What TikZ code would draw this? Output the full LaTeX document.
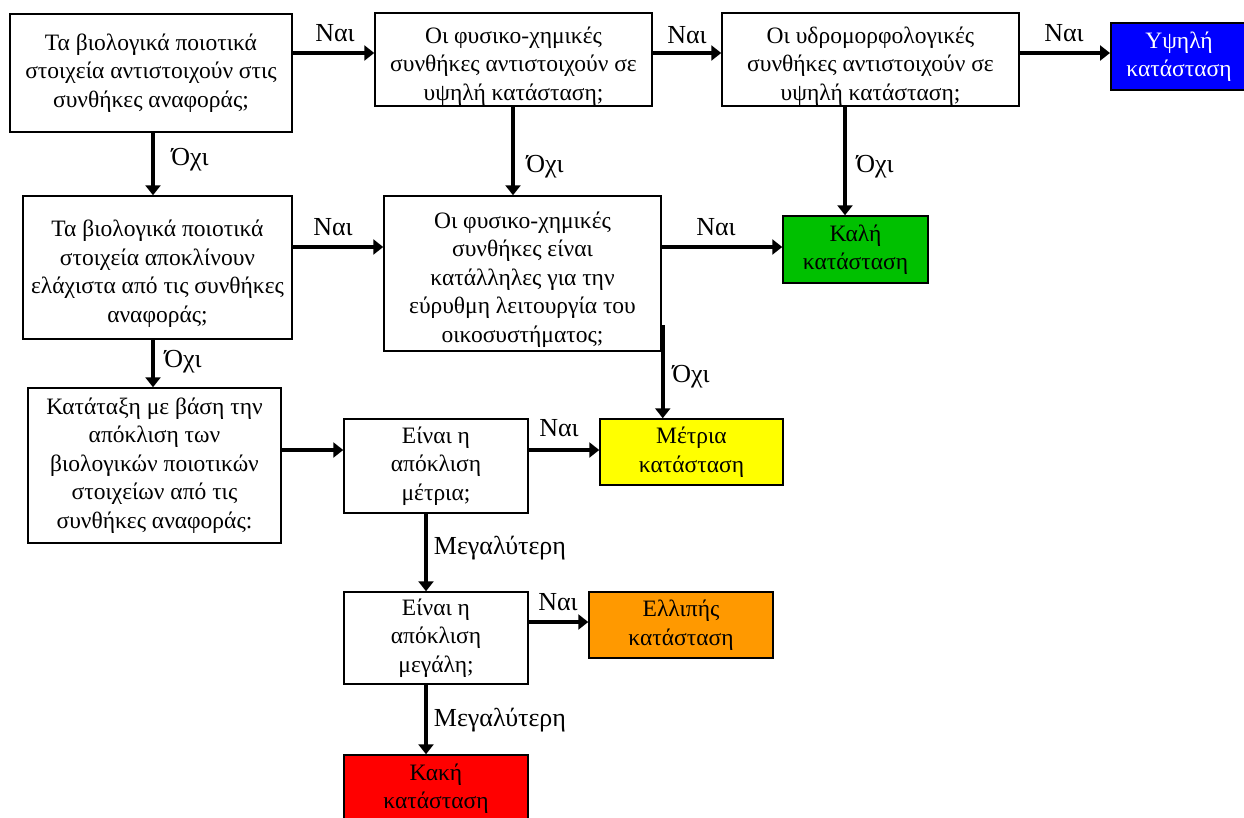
\documentclass[tikz,border=0pt]{standalone}
\usepackage{fontspec}
\setmainfont{Liberation Serif}
\usetikzlibrary{arrows.meta}
\definecolor{cblue}{RGB}{0,0,255}
\definecolor{cgreen}{RGB}{0,192,0}
\definecolor{cyellow}{RGB}{255,255,0}
\definecolor{corange}{RGB}{255,153,0}
\definecolor{cred}{RGB}{255,0,0}
\newcommand{\downstrut}{\rule{0pt}{29pt}}
\begin{document}
\begin{tikzpicture}[x=1pt,y=-1pt,
  box/.style={draw=black, line width=1.5pt, rectangle, inner sep=0pt, align=center,
    font=\fontsize{23.5}{28.5}\selectfont, text=black},
  arr/.style={line width=4pt, -{Triangle[length=10pt,width=15pt]}},
  lbl/.style={font=\fontsize{26}{30}\selectfont, inner sep=0pt}]
\useasboundingbox[fill=white] (0,0) rectangle (1244,817);

% boxes
\node[box, minimum width=282pt, minimum height=118pt] (A) at (151,73)
  {Τα βιολογικά ποιοτικά\\στοιχεία αντιστοιχούν στις\\συνθήκες αναφοράς;};
\node[box, minimum width=277pt, minimum height=93pt] (B) at (513.5,59.5)
  {\downstrut Οι φυσικο-χημικές\\συνθήκες αντιστοιχούν σε\\υψηλή κατάσταση;};
\node[box, minimum width=297pt, minimum height=93pt] (C) at (870.5,59.5)
  {\downstrut Οι υδρομορφολογικές\\συνθήκες αντιστοιχούν σε\\υψηλή κατάσταση;};
\node[box, fill=cblue, minimum width=170pt, minimum height=67pt, anchor=west] (D) at (1110,56.5) {};
\node[box, draw=none, text=white] (Dt) at (1179,56.5) {Υψηλή\\κατάσταση};
\node[box, minimum width=269pt, minimum height=143pt] (E) at (157.5,267.5)
  {\downstrut Τα βιολογικά ποιοτικά\\στοιχεία αποκλίνουν\\ελάχιστα από τις συνθήκες\\αναφοράς;};
\node[box, minimum width=277pt, minimum height=155pt] (F) at (522.5,273.5)
  {\downstrut Οι φυσικο-χημικές\\συνθήκες είναι\\κατάλληλες για την\\εύρυθμη λειτουργία του\\οικοσυστήματος;};
\node[box, fill=cgreen, minimum width=145pt, minimum height=67pt] (G) at (855.5,249.5)
  {Καλή\\κατάσταση};
\node[box, minimum width=253pt, minimum height=155pt] (H) at (154.5,465.5)
  {Κατάταξη με βάση την\\απόκλιση των\\βιολογικών ποιοτικών\\στοιχείων από τις\\συνθήκες αναφοράς:};
\node[box, minimum width=184pt, minimum height=94pt] (I) at (436,466)
  {Είναι η\\απόκλιση\\μέτρια;};
\node[box, fill=cyellow, minimum width=183pt, minimum height=66pt] (J) at (691.5,452)
  {Μέτρια\\κατάσταση};
\node[box, minimum width=184pt, minimum height=92pt] (K) at (436,638)
  {Είναι η\\απόκλιση\\μεγάλη;};
\node[box, fill=corange, minimum width=184pt, minimum height=66pt] (L) at (681,625)
  {Ελλιπής\\κατάσταση};
\node[box, fill=cred, minimum width=184pt, minimum height=67pt] (M) at (436,788.5)
  {Κακή\\κατάσταση};

% helper coordinates
\coordinate (y53) at (0,53);
\coordinate (y247) at (0,247);
\coordinate (y450) at (0,450);
\coordinate (y622) at (0,622);
\coordinate (y325) at (0,325);
\coordinate (x153) at (153,0);
\coordinate (x513) at (513,0);
\coordinate (x845) at (845,0);
\coordinate (x426) at (426,0);

% connectors
\draw[arr] (A.east |- y53) -- (B.west |- y53);
\draw[arr] (B.east |- y53) -- (C.west |- y53);
\draw[arr] (C.east |- y53) -- (D.west |- y53);
\draw[arr] (A.south -| x153) -- (E.north -| x153);
\draw[arr] (B.south -| x513) -- (F.north -| x513);
\draw[arr] (C.south -| x845) -- (G.north -| x845);
\draw[arr] (E.east |- y247) -- (F.west |- y247);
\draw[arr] (F.east |- y247) -- (G.west |- y247);
\draw[arr] (E.south -| x153) -- (H.north -| x153);
\draw[arr] ([xshift=1pt]F.east |- y325) -- ([xshift=1pt]J.north -| F.east);
\draw[arr] (H.east |- y450) -- (I.west |- y450);
\draw[arr] (I.east |- y450) -- (J.west |- y450);
\draw[arr] (I.south -| x426) -- (K.north -| x426);
\draw[arr] (K.east |- y622) -- (L.west |- y622);
\draw[arr] (K.south -| x426) -- (M.north -| x426);

% labels
\node[lbl] (n1) at (335,33) {Ναι};
\node[lbl] (n2) at (687,35) {Ναι};
\node[lbl] (n3) at (1064,33) {Ναι};
\node[lbl] (n4) at (333,227) {Ναι};
\node[lbl] (n5) at (716,227) {Ναι};
\node[lbl] (n6) at (559,428) {Ναι};
\node[lbl] (n7) at (558,602) {Ναι};
\node[lbl] (o1) at (190,160) {Όχι};
\node[lbl] (o2) at (545,167) {Όχι};
\node[lbl] (o3) at (875,167) {Όχι};
\node[lbl] (o4) at (183,362) {Όχι};
\node[lbl] (o5) at (691,377) {Όχι};
\node[lbl] (m1) at (500,548) {Μεγαλύτερη};
\node[lbl] (m2) at (500,720) {Μεγαλύτερη};
\end{tikzpicture}
\end{document}
